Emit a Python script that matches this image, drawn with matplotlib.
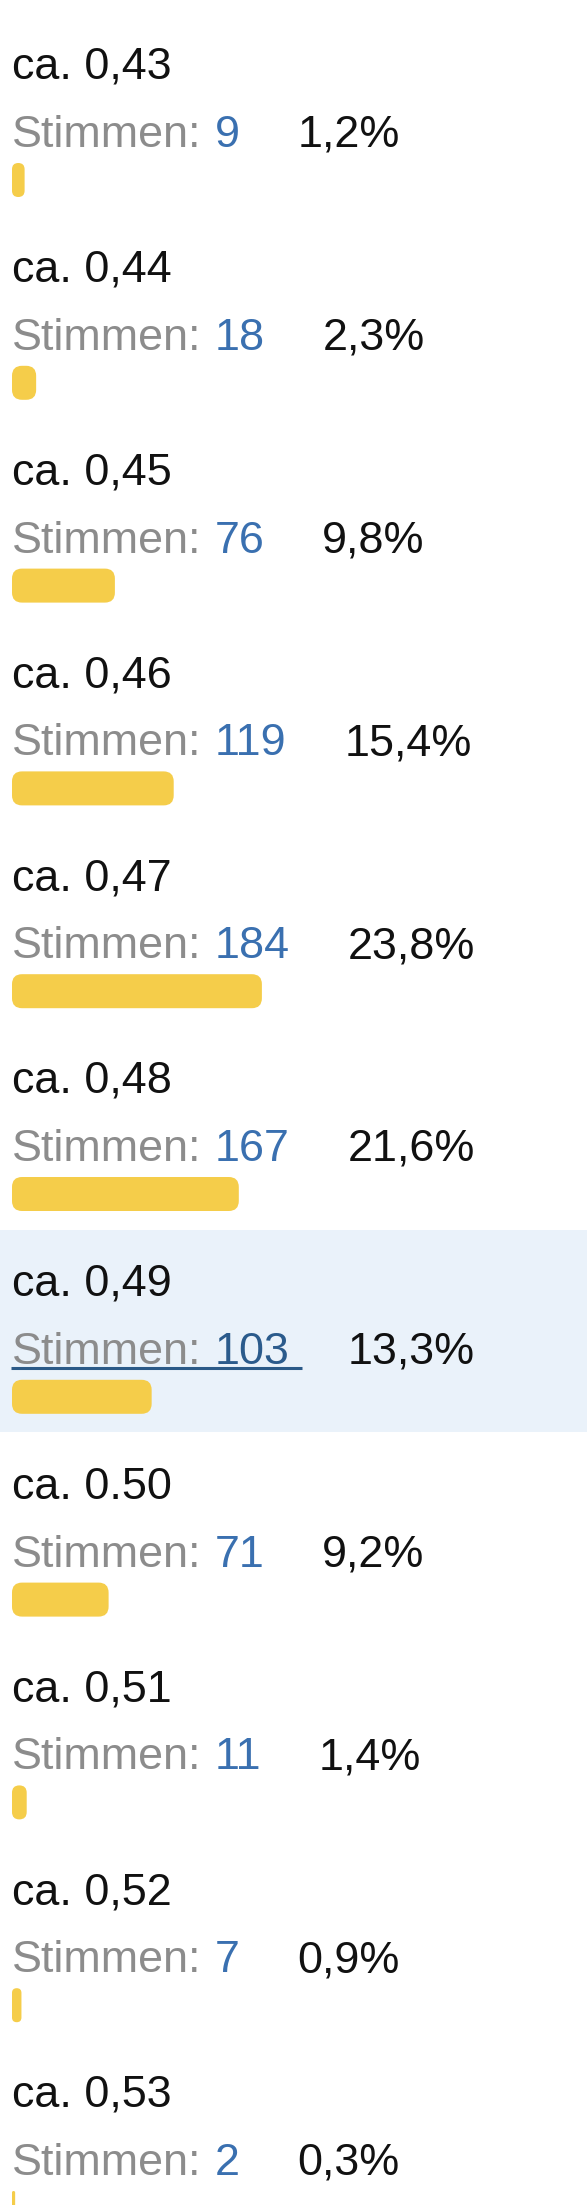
import matplotlib
matplotlib.use("Agg")
import matplotlib.pyplot as plt
from matplotlib.patches import FancyBboxPatch, Rectangle

labels = ["ca. 0,43", "ca. 0,44", "ca. 0,45", "ca. 0,46", "ca. 0,47", "ca. 0,48",
          "ca. 0,49", "ca. 0.50", "ca. 0,51", "ca. 0,52", "ca. 0,53"]
votes = [9, 18, 76, 119, 184, 167, 103, 71, 11, 7, 2]
pct = [1.2, 2.3, 9.8, 15.4, 23.8, 21.6, 13.3, 9.2, 1.4, 0.9, 0.3]
pct_labels = ["1,2%", "2,3%", "9,8%", "15,4%", "23,8%", "21,6%",
              "13,3%", "9,2%", "1,4%", "0,9%", "0,3%"]
highlight = 6

W, H, DPI = 587, 2205, 100
PX_PER_PCT = 10.5
ROW_PX = 202.8
LEFT_PX = 12
TOP_PX = 13

plt.rcParams['font.family'] = ['Liberation Sans', 'DejaVu Sans']

fig = plt.figure(figsize=(W / DPI, H / DPI), dpi=DPI)
ax = fig.add_axes([0, 0, 1, 1])
ax.set_xlim(-LEFT_PX / PX_PER_PCT, (W - LEFT_PX) / PX_PER_PCT)
ax.set_ylim((H - TOP_PX) / ROW_PX, -TOP_PX / ROW_PX)
ax.axis('off')

fs = 32.3
grey = '#8c8c8c'
blue = '#3a70b0'
dark_blue = '#2b5b8c'
black = '#111111'
yellow = '#f5cd4a'

aspect = PX_PER_PCT / ROW_PX
bar_h = 34 / ROW_PX
rad = 10 / PX_PER_PCT

num_texts = []
for i, (lab, v, p, pl) in enumerate(zip(labels, votes, pct, pct_labels)):
    if i == highlight:
        ax.add_patch(Rectangle((ax.get_xlim()[0], i), 100, 202 / ROW_PX,
                               facecolor='#eaf2fa', edgecolor='none', zorder=0))
    ax.text(0, i + 66 / ROW_PX, lab, fontsize=fs, color=black, va='baseline', ha='left')
    t1 = ax.text(0, i + 134 / ROW_PX, "Stimmen:", fontsize=fs, color=grey,
                 va='baseline', ha='left')
    t2 = ax.annotate(str(v), xy=(1, 0), xycoords=t1, xytext=(13, 0),
                     textcoords='offset pixels', fontsize=fs, va='bottom', ha='left',
                     color=dark_blue if i == highlight else blue)
    ax.annotate(pl, xy=(1, 0), xycoords=t2, xytext=(58, 0),
                textcoords='offset pixels', fontsize=fs, va='bottom', ha='left',
                color=black)
    num_texts.append(t2)

    w = max(p, 0.25)
    r = min(rad, w / 2)
    ax.add_patch(FancyBboxPatch((0, i + 150 / ROW_PX), w, bar_h,
                                boxstyle=f"round,pad=0,rounding_size={r}",
                                mutation_aspect=aspect,
                                facecolor=yellow, edgecolor='none', zorder=2))

# underline for the highlighted row
fig.canvas.draw()
ext = num_texts[highlight].get_window_extent()
inv = ax.transData.inverted()
x_end = inv.transform((ext.x1 + 13, 0))[0]
x_start = inv.transform((LEFT_PX - 1, 0))[0]
y_line = highlight + 138 / ROW_PX
ax.plot([x_start, x_end], [y_line, y_line], color='#2b5a88', lw=2.2,
        solid_capstyle='butt', zorder=3)

fig.savefig('out.png', dpi=DPI)
